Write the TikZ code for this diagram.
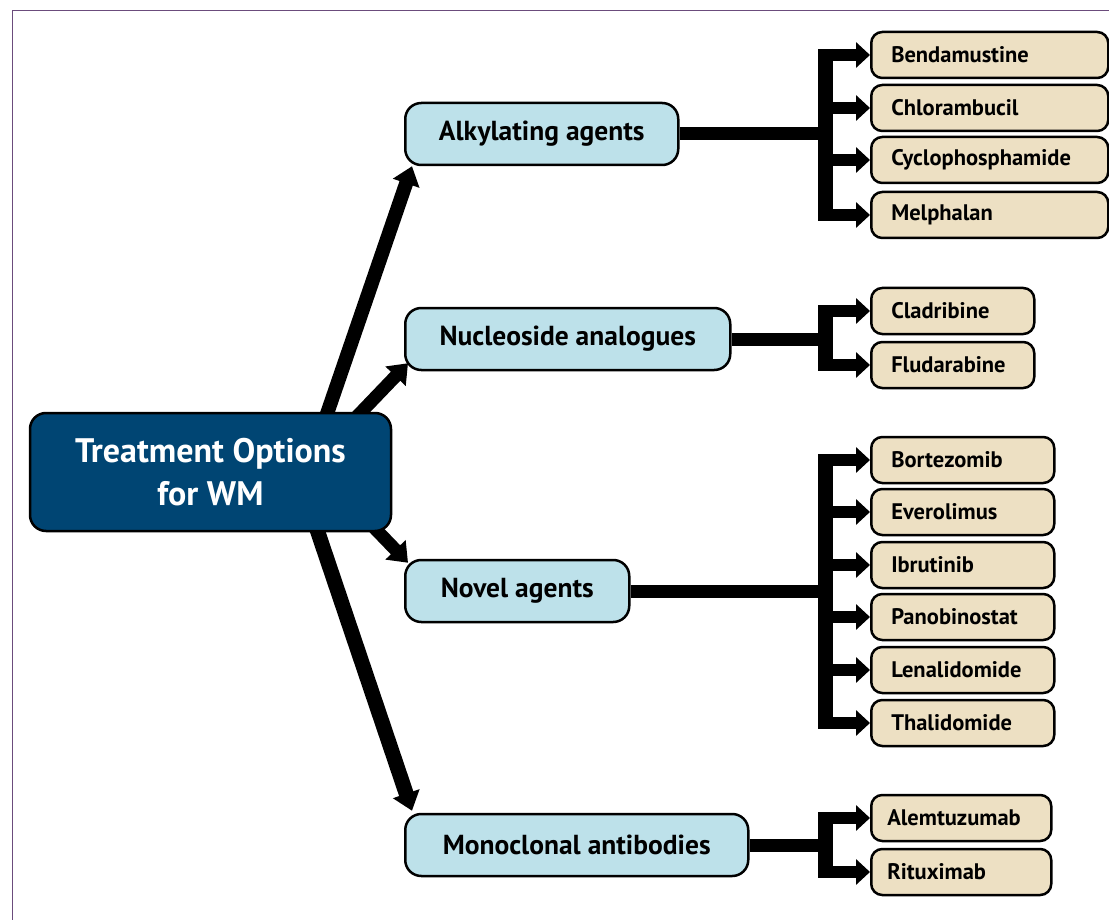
\documentclass[tikz,border=0pt]{standalone}
\usepackage{fontspec}
\setmainfont{PT Sans}
\usetikzlibrary{arrows.meta}
\definecolor{mainblue}{HTML}{004573}
\definecolor{catblue}{HTML}{BDE1EA}
\definecolor{drugtan}{HTML}{EDE0C3}
\definecolor{framecol}{HTML}{6B4C7C}
\pgfdeclarelayer{bg}
\pgfsetlayers{bg,main}
\tikzset{
  mainbox/.style={draw=black, line width=2.5pt, fill=mainblue, rounded corners=16pt,
    text=white, minimum width=361pt, minimum height=118pt, align=center,
    font=\fontsize{34}{43}\selectfont\bfseries, inner sep=0pt},
  catbox/.style={draw=black, line width=2.5pt, fill=catblue, rounded corners=16pt,
    minimum height=62pt, font=\fontsize{27.5}{30}\selectfont\bfseries, inner sep=0pt, anchor=west},
  drugbox/.style={draw=black, line width=2.5pt, fill=drugtan, rounded corners=11pt,
    minimum height=46pt, font=\fontsize{22.5}{24}\selectfont\bfseries, inner xsep=20pt,
    inner ysep=0pt, anchor=west, align=left},
  bigarrow/.style={line width=#1, -{Triangle[length=18pt,width=27pt]}},
  feed/.style={line width=13pt},
  barline/.style={line width=15pt},
  brarrow/.style={line width=12pt, -{Triangle[length=14pt,width=25pt]}},
}
\begin{document}
\begin{tikzpicture}[x=1pt,y=-1pt]
\useasboundingbox (0,0) rectangle (1109,920);
\draw[framecol, line width=1.6pt] (12.5,920) -- (12.5,10.5) -- (1109,10.5);

% main node
\node[mainbox] (main) at (210.5,472) {Treatment Options\\for WM};

% categories
\node[catbox, minimum width=273pt] (alk) at (404,134) {Alkylating agents};
\node[catbox, minimum width=325pt] (nuc) at (404,339) {Nucleoside analogues};
\node[catbox, minimum width=224pt] (nov) at (404,591) {Novel agents};
\node[catbox, minimum width=343pt] (mon) at (404,845) {Monoclonal antibodies};

% drugs
\node[drugbox, text width=197pt] (ben) at (870,55) {Bendamustine};
\node[drugbox, text width=197pt] (chl) at (870,108) {Chlorambucil};
\node[drugbox, text width=197pt] (cyc) at (870,160) {Cyclophosphamide};
\node[drugbox, text width=197pt] (mel) at (870,215) {Melphalan};

\node[drugbox, text width=123pt] (cla) at (870,311) {Cladribine};
\node[drugbox, text width=123pt] (flu) at (870,365) {Fludarabine};

\node[drugbox, text width=143pt] (bor) at (870,460) {Bortezomib};
\node[drugbox, text width=143pt] (eve) at (870,512) {Everolimus};
\node[drugbox, text width=143pt] (ibr) at (870,565) {Ibrutinib};
\node[drugbox, text width=143pt] (pan) at (870,617) {Panobinostat};
\node[drugbox, text width=143pt] (len) at (870,670) {Lenalidomide};
\node[drugbox, text width=143pt] (tha) at (870,723) {Thalidomide};

\node[drugbox, text width=148pt, inner xsep=16pt] (ale) at (870,818) {Alemtuzumab};
\node[drugbox, text width=148pt, inner xsep=16pt] (rit) at (870,872) {Rituximab};

% connectors
\coordinate (s1) at (318,440);
\coordinate (s2) at (344,430);
\coordinate (s3) at (360,513);
\coordinate (s4) at (306,497);
\coordinate (alkbar) at (825,134);
\coordinate (nucbar) at (825,339);
\coordinate (novbar) at (825,591);
\coordinate (monbar) at (825,845);

\begin{pgfonlayer}{bg}
\draw[bigarrow=14pt] (s1) -- ([xshift=8pt]alk.south west);
\draw[bigarrow=13pt] (s2) -- ([xshift=4pt,yshift=8pt]nuc.south west);
\draw[bigarrow=13pt] (s3) -- ([xshift=4pt,yshift=-4pt]nov.north west);
\draw[bigarrow=15pt] (s4) -- ([xshift=8pt,yshift=2pt]mon.north west);

% alkylating bracket
\draw[feed] (alk.east) -- (alkbar);
\draw[barline] ([yshift=6pt]alkbar |- ben.west) -- ([yshift=-6pt]alkbar |- mel.west);
\foreach \d in {ben,chl,cyc,mel} \draw[brarrow] (alkbar |- \d.west) -- (\d.west);

% nucleoside bracket
\draw[feed] (nuc.east) -- (nucbar);
\draw[barline] ([yshift=6pt]nucbar |- cla.west) -- ([yshift=-6pt]nucbar |- flu.west);
\foreach \d in {cla,flu} \draw[brarrow] (nucbar |- \d.west) -- (\d.west);

% novel bracket
\draw[feed] (nov.east) -- (novbar);
\draw[barline] ([yshift=6pt]novbar |- bor.west) -- ([yshift=-6pt]novbar |- tha.west);
\foreach \d in {bor,eve,ibr,pan,len,tha} \draw[brarrow] (novbar |- \d.west) -- (\d.west);

% monoclonal bracket
\draw[feed] (mon.east) -- (monbar);
\draw[barline] ([yshift=6pt]monbar |- ale.west) -- ([yshift=-6pt]monbar |- rit.west);
\foreach \d in {ale,rit} \draw[brarrow] (monbar |- \d.west) -- (\d.west);
\end{pgfonlayer}
\end{tikzpicture}
\end{document}
